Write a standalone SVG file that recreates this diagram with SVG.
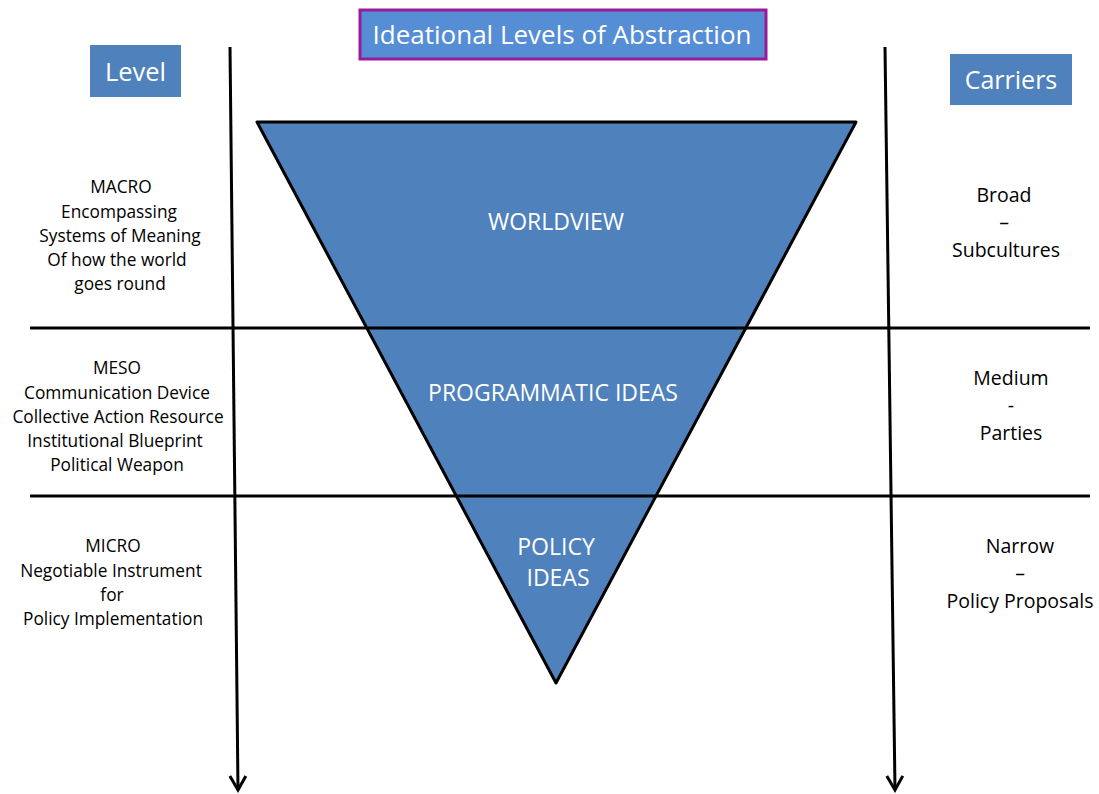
<svg xmlns="http://www.w3.org/2000/svg" width="1099" height="794" viewBox="0 0 1099 794">
<defs>
<marker id="ah" viewBox="0 0 20 20" refX="17" refY="10" markerWidth="20" markerHeight="20" markerUnits="userSpaceOnUse" orient="auto">
<path d="M3,2 L17,10 L3,18" fill="none" stroke="#000" stroke-width="3"/>
</marker>
<style>
.t{font-family:"Open Sans","Liberation Sans",sans-serif;fill:#000;font-size:17.3px;text-anchor:middle}
.r{font-family:"Open Sans","Liberation Sans",sans-serif;fill:#000;font-size:19.5px;text-anchor:middle}
.w{font-family:"Open Sans","Liberation Sans",sans-serif;fill:#fff;text-anchor:middle}
.ln{stroke:#000;stroke-width:3;fill:none}
</style>
</defs>
<rect width="1099" height="794" fill="#fff"/>
<g id="triangle">
<polygon points="257,122 856,122 556,683" fill="#4F81BD" stroke="#000" stroke-width="3" stroke-linejoin="round"/>
<text class="w" x="556" y="230" font-size="23">WORLDVIEW</text>
<text class="w" x="553" y="401" font-size="23">PROGRAMMATIC IDEAS</text>
<text class="w" x="556" y="555" font-size="23">POLICY</text>
<text class="w" x="558" y="586" font-size="23">IDEAS</text>
</g>
<g id="connectors">
<line class="ln" x1="30" y1="328" x2="1090" y2="328"/>
<line class="ln" x1="30" y1="496" x2="1090" y2="496"/>
<line class="ln" x1="230" y1="47" x2="238" y2="790" marker-end="url(#ah)"/>
<line class="ln" x1="885" y1="47" x2="895" y2="790" marker-end="url(#ah)"/>
</g>
<g id="title">
<rect x="360" y="10" width="406" height="49" fill="#558ED5" stroke="#9B1A9B" stroke-width="3"/>
<text class="w" x="562" y="44" font-size="26">Ideational Levels of Abstraction</text>
</g>
<g id="level">
<rect x="90" y="45" width="91" height="52" fill="#4F81BD"/>
<text class="w" x="135.5" y="81" font-size="25.5">Level</text>
</g>
<g id="carriers">
<rect x="950" y="54" width="122" height="51" fill="#4F81BD"/>
<text class="w" x="1011" y="89" font-size="25">Carriers</text>
</g>
<g id="macro">
<text class="t" x="121" y="193">MACRO</text>
<text class="t" x="119" y="218">Encompassing</text>
<text class="t" x="120" y="242">Systems of Meaning</text>
<text class="t" x="117" y="266">Of how the world</text>
<text class="t" x="120" y="290">goes round</text>
</g>
<g id="meso">
<text class="t" x="117" y="374">MESO</text>
<text class="t" x="117" y="399">Communication Device</text>
<text class="t" x="118" y="423">Collective Action Resource</text>
<text class="t" x="115" y="447">Institutional Blueprint</text>
<text class="t" x="117" y="471">Political Weapon</text>
</g>
<g id="micro">
<text class="t" x="113" y="552">MICRO</text>
<text class="t" x="111" y="577">Negotiable Instrument</text>
<text class="t" x="112" y="601">for</text>
<text class="t" x="113" y="625">Policy Implementation</text>
</g>
<g id="broad">
<text class="r" x="1004" y="202">Broad</text>
<text class="r" x="1004" y="229">–</text>
<text class="r" x="1006" y="257">Subcultures</text>
</g>
<g id="medium">
<text class="r" x="1011" y="385">Medium</text>
<text class="r" x="1011" y="412">-</text>
<text class="r" x="1011" y="440">Parties</text>
</g>
<g id="narrow">
<text class="r" x="1020" y="553">Narrow</text>
<text class="r" x="1020" y="580">–</text>
<text class="r" x="1020" y="608">Policy Proposals</text>
</g>
</svg>
